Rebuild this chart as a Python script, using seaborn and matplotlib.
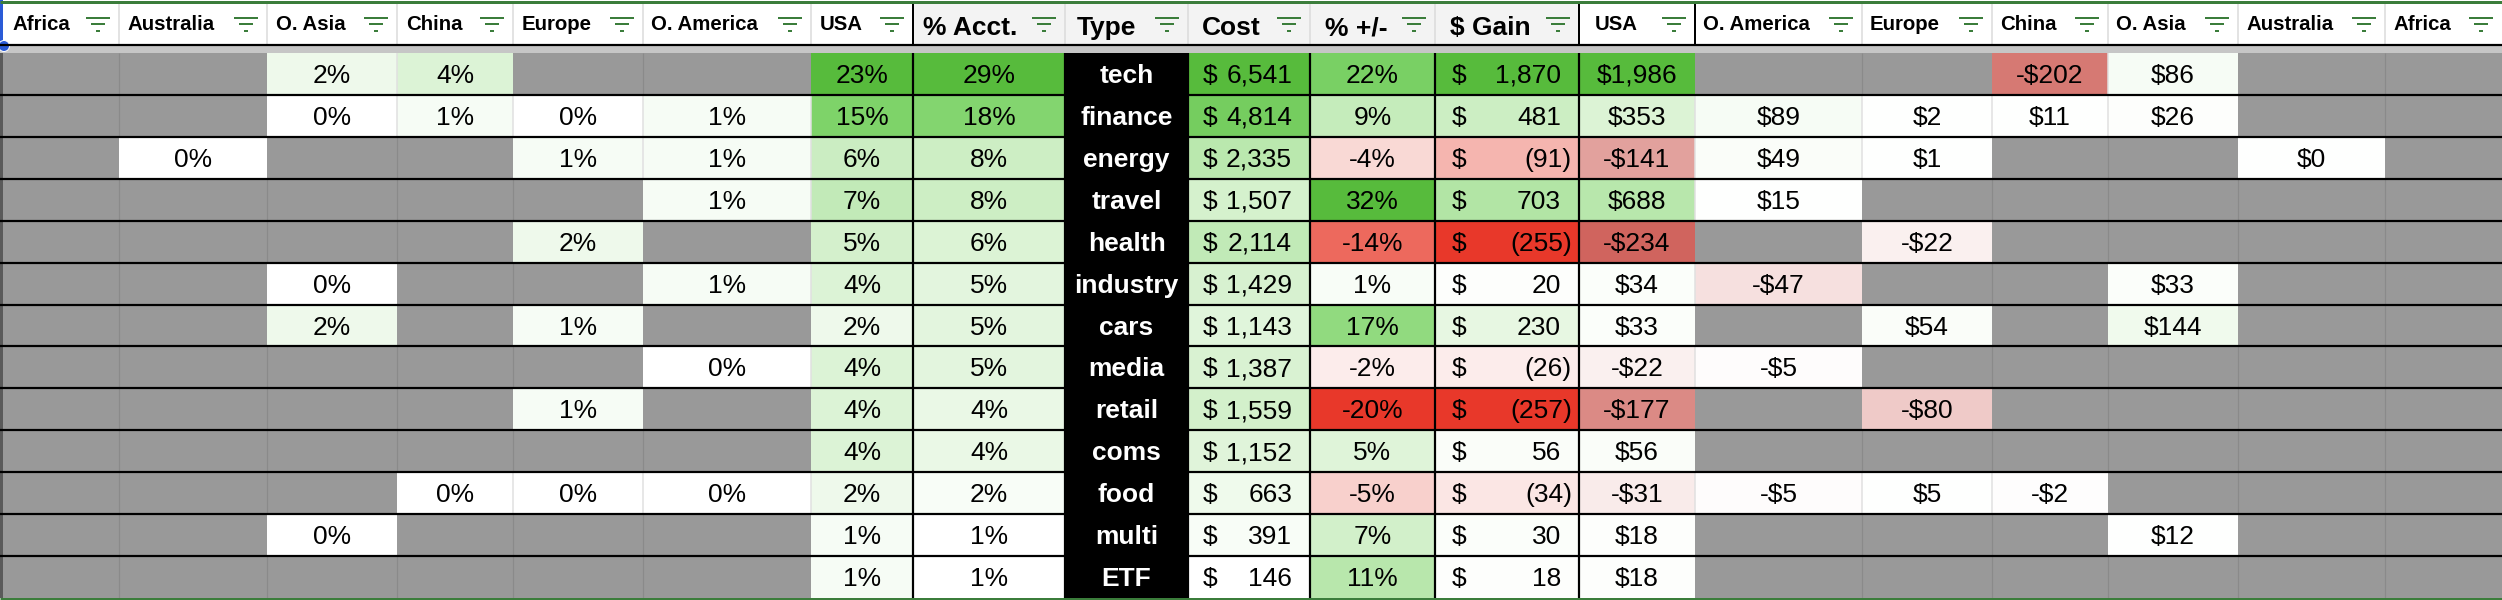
"""
Portfolio allocation sheet, redrawn as per-column seaborn heatmaps.
"""
import warnings

import matplotlib
matplotlib.use("Agg")
import matplotlib.pyplot as plt
import matplotlib.colors as mcolors
import matplotlib.patches as mpatches
import numpy as np
import seaborn as sns

warnings.filterwarnings("ignore")
plt.rcParams["font.family"] = ["Liberation Sans", "DejaVu Sans"]

nan = np.nan

# ---------------------------------------------------------------------------
# data

types = ["tech", "finance", "energy", "travel", "health", "industry", "cars",
         "media", "retail", "coms", "food", "multi", "ETF"]

left_headers = ["Africa", "Australia", "O. Asia", "China", "Europe", "O. America", "USA"]
right_headers = ["USA", "O. America", "Europe", "China", "O. Asia", "Australia", "Africa"]

# % of account by region (blank = no holding)
pct_africa = [nan, nan, nan, nan, nan, nan, nan, nan, nan, nan, nan, nan, nan]
pct_australia = [nan, nan, 0, nan, nan, nan, nan, nan, nan, nan, nan, nan, nan]
pct_oasia = [2, 0, nan, nan, nan, 0, 2, nan, nan, nan, nan, 0, nan]
pct_china = [4, 1, nan, nan, nan, nan, nan, nan, nan, nan, 0, nan, nan]
pct_europe = [nan, 0, 1, nan, 2, nan, 1, nan, 1, nan, 0, nan, nan]
pct_oamerica = [nan, 1, 1, 1, nan, 1, nan, 0, nan, nan, 0, nan, nan]
pct_usa = [23, 15, 6, 7, 5, 4, 2, 4, 4, 4, 2, 1, 1]
pct_acct = [29, 18, 8, 8, 6, 5, 5, 5, 4, 4, 2, 1, 1]

cost = [6541, 4814, 2335, 1507, 2114, 1429, 1143, 1387, 1559, 1152, 663, 391, 146]
pct_change = [22, 9, -4, 32, -14, 1, 17, -2, -20, 5, -5, 7, 11]
gain = [1870, 481, -91, 703, -255, 20, 230, -26, -257, 56, -34, 30, 18]

# $ gain by region
usd_usa = [1986, 353, -141, 688, -234, 34, 33, -22, -177, 56, -31, 18, 18]
usd_oamerica = [nan, 89, 49, 15, nan, -47, nan, -5, nan, nan, -5, nan, nan]
usd_europe = [nan, 2, 1, nan, -22, nan, 54, nan, -80, nan, 5, nan, nan]
usd_china = [-202, 11, nan, nan, nan, nan, nan, nan, nan, nan, -2, nan, nan]
usd_oasia = [86, 26, nan, nan, nan, 33, 144, nan, nan, nan, nan, 12, nan]
usd_australia = [nan, nan, 0, nan, nan, nan, nan, nan, nan, nan, nan, nan, nan]
usd_africa = [nan, nan, nan, nan, nan, nan, nan, nan, nan, nan, nan, nan, nan]

# ---------------------------------------------------------------------------
# layout (pixels)

W, H = 2502, 600
col_edges = [3, 119, 267, 397, 513, 643, 811, 913, 1065, 1188, 1310, 1435,
             1579, 1695, 1862, 1992, 2108, 2238, 2385, 2502]
HEAD_TOP, HEAD_BOT, BODY_TOP, BODY_BOT = 2, 44.5, 53, 598
n_rows = len(types)
row_h = (BODY_BOT - BODY_TOP) / n_rows

EMPTY = "#999999"
GREEN_LINE = "#3b7d3b"


def px(v):
    return v * 72 / 100


green_cmap = mcolors.LinearSegmentedColormap.from_list(
    "green", [(0, "#ffffff"), (0.25, "#cdeec4"), (0.6, "#84d670"), (1, "#57bb3c")])
bright_div = mcolors.LinearSegmentedColormap.from_list(
    "bright", [(0, "#e8382a"), (0.2, "#ef7a6e"), (0.375, "#f8cfcb"), (0.5, "#ffffff"),
               (0.625, "#cdeec4"), (0.8, "#84d670"), (1, "#57bb3c")])
muted_div = mcolors.LinearSegmentedColormap.from_list(
    "muted", [(0, "#d0645e"), (0.5, "#ffffff"), (0.625, "#cdeec4"),
              (0.8, "#84d670"), (1, "#57bb3c")])
black_cmap = mcolors.ListedColormap(["black"])

left_block = [pct_africa, pct_australia, pct_oasia, pct_china, pct_europe, pct_oamerica, pct_usa]
right_block = [usd_usa, usd_oamerica, usd_europe, usd_china, usd_oasia, usd_australia, usd_africa]

left_norm = mcolors.Normalize(0, np.nanmax(left_block))
acct_norm = mcolors.Normalize(min(pct_acct), max(pct_acct))
cost_norm = mcolors.Normalize(min(cost), max(cost))
chg_norm = mcolors.TwoSlopeNorm(0, min(pct_change), max(pct_change))
gain_norm = mcolors.TwoSlopeNorm(0, min(gain), max(gain))
right_norm = mcolors.TwoSlopeNorm(0, np.nanmin(right_block), np.nanmax(right_block))

# (header, values, cmap, norm, kind)
columns = []
for h, v in zip(left_headers, left_block):
    columns.append((h, v, green_cmap, left_norm, "pct"))
columns.append(("% Acct.", pct_acct, green_cmap, acct_norm, "pct"))
columns.append(("Type", [0] * n_rows, black_cmap, mcolors.Normalize(-1, 1), "type"))
columns.append(("Cost", cost, green_cmap, cost_norm, "cost"))
columns.append(("% +/-", pct_change, bright_div, chg_norm, "pct"))
columns.append(("$ Gain", gain, bright_div, gain_norm, "gain"))
for h, v in zip(right_headers, right_block):
    columns.append((h, v, muted_div, right_norm, "usd"))

big_headers = {"% Acct.", "Type", "Cost", "% +/-", "$ Gain"}
header_pad = [9, 8, 9, 9, 9, 8, 9, 10, 12, 14, 15, 15, 16, 8, 8, 8, 8, 8, 8]

# ---------------------------------------------------------------------------

fig = plt.figure(figsize=(W / 100, H / 100), dpi=100)
fig.patch.set_facecolor("white")

# cells
for i, (name, vals, cmap, norm, kind) in enumerate(columns):
    x0, x1 = col_edges[i], col_edges[i + 1]
    ax = fig.add_axes([x0 / W, 1 - BODY_BOT / H, (x1 - x0) / W, (BODY_BOT - BODY_TOP) / H])
    data = np.array(vals, dtype=float).reshape(-1, 1)
    sns.heatmap(data, ax=ax, cmap=cmap, norm=norm, vmin=norm.vmin, vmax=norm.vmax,
                cbar=False, xticklabels=False, yticklabels=False, linewidths=0)
    ax.set_facecolor(EMPTY)
    ax.set_xlabel("")
    ax.set_ylabel("")

# overlay in pixel coordinates for grid, header and text
ov = fig.add_axes([0, 0, 1, 1], zorder=10)
ov.set_xlim(0, W)
ov.set_ylim(H, 0)
ov.axis("off")
ov.patch.set_alpha(0)

# header backgrounds
ov.add_patch(mpatches.Rectangle((0, 0), W, HEAD_BOT, color="white", lw=0))
ov.add_patch(mpatches.Rectangle((col_edges[7], HEAD_TOP), col_edges[12] - col_edges[7],
                                HEAD_BOT - HEAD_TOP, color="#f3f3f3", lw=0))
ov.add_patch(mpatches.Rectangle((0, HEAD_BOT), W, BODY_TOP - HEAD_BOT, color="#c6c6c6", lw=0))

# header gridlines
black_head = {913, 1579, 1695}
for x in col_edges[1:-1]:
    ov.vlines(x, HEAD_TOP, HEAD_BOT, color="black" if x in black_head else "#dadada",
              lw=px(2 if x in black_head else 1.5))

# body vertical gridlines
black_body = {913, 1065, 1188, 1310, 1435, 1579}
for k in range(1, len(columns)):
    x = col_edges[k]
    if x in black_body:
        ov.vlines(x, BODY_TOP, BODY_BOT, color="black", lw=px(2.2))
        continue
    left_vals, right_vals = columns[k - 1][1], columns[k][1]
    for r in range(n_rows):
        a, b = np.isnan(left_vals[r]), np.isnan(right_vals[r])
        y0, y1 = BODY_TOP + r * row_h, BODY_TOP + (r + 1) * row_h
        if a and b:
            ov.vlines(x, y0, y1, color="#8a8a8a", lw=px(1.2))
        elif not a and not b:
            ov.vlines(x, y0, y1, color="#e0e0e0", lw=px(1.5))

# row separators
for r in range(1, n_rows):
    ov.hlines(BODY_TOP + r * row_h, 0, W, color="black", lw=px(2.2))

# frame lines
ov.hlines(HEAD_TOP, 0, W, color=GREEN_LINE, lw=px(3))
ov.hlines(HEAD_BOT, 0, W, color="black", lw=px(2.2))
ov.hlines(BODY_BOT + 1, 0, W, color=GREEN_LINE, lw=px(3))
ov.add_patch(mpatches.Rectangle((0, BODY_TOP), 3, BODY_BOT - BODY_TOP, color="#5a5a5a", lw=0))

# selection marker
ov.add_patch(mpatches.Rectangle((0, 0), 3, HEAD_BOT, color="#2a5bd7", lw=0))
ov.add_patch(mpatches.Circle((4, 46), 5.5, facecolor="#2a5bd7", edgecolor="white", lw=px(1)))

# header text + filter icons
for i, (name, vals, cmap, norm, kind) in enumerate(columns):
    x0, x1 = col_edges[i], col_edges[i + 1]
    big = name in big_headers
    ov.text(x0 + header_pad[i], 35 if big else 30, name, fontsize=19 if big else 14.7,
            fontweight="bold", ha="left", va="baseline", color="black")
    cx = x1 - 21
    for y, half in [(18.3, 12), (24.3, 7), (30.7, 2)]:
        ov.hlines(y, cx - half, cx + half, color=GREEN_LINE, lw=px(2))

# cell text
for i, (name, vals, cmap, norm, kind) in enumerate(columns):
    x0, x1 = col_edges[i], col_edges[i + 1]
    xc = (x0 + x1) / 2
    for r in range(n_rows):
        yb = BODY_TOP + r * row_h + 30
        if kind == "type":
            ov.text(xc, yb, types[r], fontsize=19, fontweight="bold", color="white",
                    ha="center", va="baseline")
            continue
        v = vals[r]
        if np.isnan(v):
            continue
        if kind == "pct":
            ov.text(xc, yb, f"{v:.0f}%", fontsize=19, ha="center", va="baseline")
        elif kind == "usd":
            s = f"-${abs(v):,.0f}" if v < 0 else f"${v:,.0f}"
            ov.text(xc, yb, s, fontsize=19, ha="center", va="baseline")
        elif kind == "cost":
            ov.text(x0 + 15, yb, "$", fontsize=19, ha="left", va="baseline")
            ov.text(x1 - 18, yb, f"{v:,.0f}", fontsize=19, ha="right", va="baseline")
        elif kind == "gain":
            ov.text(x0 + 17, yb, "$", fontsize=19, ha="left", va="baseline")
            if v < 0:
                ov.text(x1 - 7, yb, f"({abs(v):,.0f})", fontsize=19, ha="right", va="baseline")
            else:
                ov.text(x1 - 18, yb, f"{v:,.0f}", fontsize=19, ha="right", va="baseline")

fig.savefig("out.png", dpi=100)
plt.close(fig)
